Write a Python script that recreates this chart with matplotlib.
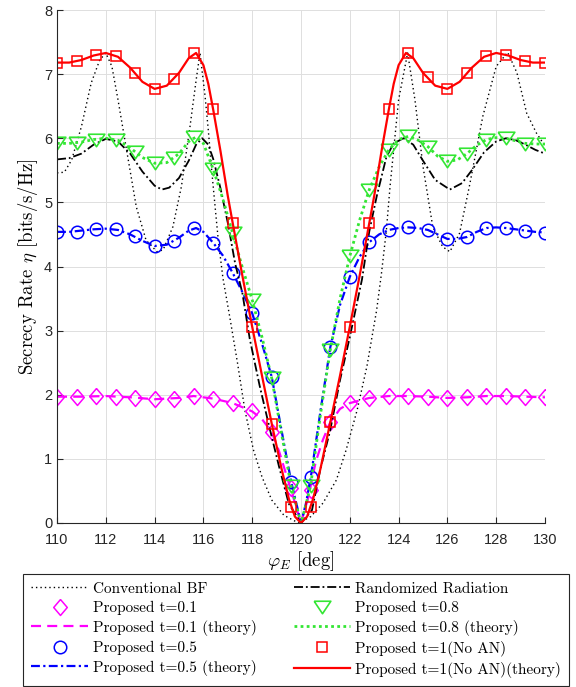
import matplotlib
matplotlib.use("Agg")
import matplotlib.pyplot as plt

plt.rcParams['font.family'] = ['cmr10']
plt.rcParams['mathtext.fontset'] = 'cm'
plt.rcParams['axes.unicode_minus'] = False

# ---------------- data ----------------
x_mk = [110.0, 110.8, 111.6, 112.4, 113.2, 114.0, 114.8, 115.6, 116.4, 117.2, 118.0, 118.8, 119.6,
        120.4, 121.2, 122.0, 122.8, 123.6, 124.4, 125.2, 126.0, 126.8, 127.6, 128.4, 129.2, 130.0]

t01_mk = [1.97, 1.96, 1.98, 1.97, 1.95, 1.93, 1.94, 1.98, 1.94, 1.87, 1.74, 1.42, 0.54,
          0.52, 1.58, 1.87, 1.95, 1.98, 1.98, 1.97, 1.95, 1.96, 1.98, 1.98, 1.97, 1.96]
t05_mk = [4.54, 4.54, 4.58, 4.58, 4.47, 4.32, 4.39, 4.60, 4.37, 3.90, 3.27, 2.28, 0.64,
          0.71, 2.74, 3.84, 4.38, 4.57, 4.61, 4.57, 4.43, 4.46, 4.60, 4.60, 4.56, 4.53]
t08_mk = [5.92, 5.92, 5.98, 5.98, 5.79, 5.61, 5.69, 6.02, 5.52, 4.52, 3.48, 2.26, 0.57,
          0.57, 2.70, 4.16, 5.20, 5.82, 6.03, 5.87, 5.64, 5.76, 5.98, 6.00, 5.91, 5.91]
t1_mk = [7.18, 7.20, 7.30, 7.29, 7.01, 6.77, 6.93, 7.33, 6.45, 4.68, 3.06, 1.55, 0.25,
         0.25, 1.57, 3.06, 4.68, 6.45, 7.33, 6.96, 6.77, 7.01, 7.29, 7.30, 7.20, 7.18]

# Conventional BF
x_cbf = [110.0, 110.3, 110.6, 111.0, 111.4, 111.75, 112.0, 112.25, 112.5, 112.85, 113.25, 113.65,
         114.1, 114.35, 114.75, 115.1, 115.45, 115.7, 115.86, 116.07, 116.2, 116.34, 116.48, 116.61,
         116.8, 117.1, 117.4, 117.7, 118.05, 118.4, 118.8, 119.3, 119.9, 120.4, 120.9, 121.45,
         121.85, 122.3, 122.7, 123.1, 123.3, 123.5, 123.65, 124.0, 124.37, 124.67, 125.0, 125.4,
         125.8, 126.1, 126.5, 126.9, 127.45, 128.0, 128.47, 128.85, 129.25, 129.65, 130.0]
y_cbf = [5.46, 5.47, 5.66, 6.18, 6.86, 7.22, 7.33, 7.12, 6.60, 5.82, 4.93, 4.41,
         4.23, 4.26, 4.62, 5.25, 6.18, 6.90, 7.33, 6.65, 6.13, 5.50, 4.93, 4.41,
         3.82, 3.17, 2.49, 1.76, 1.14, 0.72, 0.36, 0.12, 0.00, 0.10, 0.31, 0.67,
         1.14, 1.76, 2.44, 3.32, 3.90, 4.57, 5.25, 6.60, 7.33, 6.60, 5.56, 4.62,
         4.31, 4.23, 4.52, 5.25, 6.34, 7.12, 7.34, 7.02, 6.39, 6.08, 5.88]

# Randomized Radiation
x_rr = [110.0, 110.5, 111.0, 111.5, 112.0, 112.5, 113.0, 113.5, 114.0, 114.3, 114.6, 115.0, 115.4,
        115.7, 115.95, 116.2, 116.4, 116.7, 117.0, 117.3, 117.6, 117.9, 118.3, 118.7, 119.1, 119.5,
        120.0, 120.45, 120.8, 121.2, 121.6, 122.0, 122.5, 122.8, 123.1, 123.5, 123.8, 124.2, 124.6,
        125.0, 125.5, 126.1, 126.6, 127.0, 127.5, 128.0, 128.4, 128.8, 129.2, 129.6, 130.0]
y_rr = [5.67, 5.69, 5.76, 5.90, 5.99, 5.95, 5.76, 5.48, 5.26, 5.20, 5.23, 5.38, 5.65,
        5.90, 6.00, 5.90, 5.68, 5.22, 4.68, 4.05, 3.58, 2.87, 2.15, 1.50, 0.88, 0.30,
        0.00, 0.20, 0.85, 1.45, 2.23, 2.90, 3.80, 4.55, 5.09, 5.71, 5.92, 6.00, 5.90,
        5.65, 5.35, 5.20, 5.30, 5.50, 5.78, 5.95, 6.00, 5.97, 5.90, 5.82, 5.76]

# Proposed t=0.1 (theory)
x_t01 = [110.0, 111.0, 112.0, 113.0, 114.0, 115.0, 115.6, 116.4, 117.2, 118.0, 118.4, 118.8, 119.1,
         119.4, 119.7, 120.0, 120.3, 120.6, 120.9, 121.2, 121.6, 122.0, 122.8, 123.6, 124.4, 125.2,
         126.0, 126.8, 127.6, 128.4, 129.2, 130.0]
y_t01 = [1.97, 1.97, 1.98, 1.96, 1.93, 1.95, 1.98, 1.94, 1.87, 1.74, 1.62, 1.42, 1.12,
         0.75, 0.38, 0.00, 0.40, 0.95, 1.30, 1.57, 1.78, 1.87, 1.95, 1.98, 1.98, 1.97,
         1.95, 1.96, 1.98, 1.98, 1.97, 1.96]

# Proposed t=0.5 (theory)
x_t05 = [110.0, 110.5, 111.0, 111.5, 112.0, 112.5, 113.0, 113.5, 114.0, 114.5, 115.0, 115.4, 115.7,
         116.0, 116.4, 116.8, 117.2, 117.6, 118.0, 118.4, 118.8, 119.2, 119.6, 120.0, 120.2, 120.4,
         120.8, 121.2, 121.6, 122.0, 122.4, 122.8, 123.2, 123.6, 124.0, 124.4, 124.8, 125.2, 125.6,
         126.0, 126.4, 126.8, 127.2, 127.6, 128.0, 128.4, 128.8, 129.2, 129.6, 130.0]
y_t05 = [4.54, 4.54, 4.56, 4.58, 4.59, 4.57, 4.50, 4.40, 4.32, 4.34, 4.45, 4.56, 4.60,
         4.54, 4.37, 4.17, 3.90, 3.60, 3.27, 2.80, 2.28, 1.45, 0.64, 0.00, 0.30, 0.71,
         1.75, 2.74, 3.40, 3.84, 4.15, 4.38, 4.50, 4.57, 4.60, 4.61, 4.60, 4.57, 4.50,
         4.43, 4.43, 4.46, 4.54, 4.60, 4.61, 4.60, 4.58, 4.56, 4.54, 4.53]

# Proposed t=0.8 (theory)
x_t08 = [110.0, 110.5, 111.0, 111.5, 112.0, 112.5, 113.0, 113.5, 114.0, 114.5, 115.0, 115.4, 115.7,
         116.0, 116.4, 116.8, 117.2, 117.6, 118.0, 118.4, 118.8, 119.2, 119.6, 120.0, 120.2, 120.4,
         120.8, 121.2, 121.6, 122.0, 122.4, 122.8, 123.2, 123.6, 124.0, 124.4, 124.8, 125.2, 125.6,
         126.0, 126.4, 126.8, 127.2, 127.6, 128.0, 128.4, 128.8, 129.2, 129.6, 130.0]
y_t08 = [5.92, 5.92, 5.94, 5.98, 6.00, 5.97, 5.85, 5.70, 5.61, 5.62, 5.76, 5.95, 6.02,
         5.92, 5.52, 5.05, 4.52, 3.98, 3.48, 2.90, 2.26, 1.40, 0.57, 0.00, 0.28, 0.60,
         1.70, 2.70, 3.50, 4.16, 4.72, 5.20, 5.55, 5.82, 5.98, 6.03, 5.97, 5.87, 5.72,
         5.64, 5.66, 5.76, 5.89, 5.98, 6.01, 6.00, 5.96, 5.92, 5.91, 5.91]

# Proposed t=1 (No AN) (theory)
x_t1 = [110.0, 110.5, 111.0, 111.5, 112.0, 112.5, 113.0, 113.5, 114.0, 114.5, 115.0, 115.4, 115.7,
        116.0, 116.2, 116.4, 116.7, 117.0, 117.2, 117.6, 118.0, 118.4, 118.8, 119.2, 119.5, 119.75,
        120.0, 120.25, 120.5, 120.8, 121.2, 121.6, 122.0, 122.4, 122.8, 123.0, 123.3, 123.6, 123.8,
        124.0, 124.3, 124.6, 125.0, 125.5, 126.0, 126.5, 127.0, 127.5, 128.0, 128.5, 129.0, 129.5, 130.0]
y_t1 = [7.18, 7.18, 7.22, 7.29, 7.33, 7.27, 7.10, 6.88, 6.77, 6.82, 7.02, 7.25, 7.33,
        7.14, 6.85, 6.45, 5.80, 5.10, 4.68, 3.85, 3.06, 2.30, 1.55, 0.85, 0.38, 0.10,
        0.00, 0.10, 0.38, 0.85, 1.57, 2.30, 3.06, 3.85, 4.68, 5.10, 5.80, 6.45, 6.85,
        7.14, 7.33, 7.25, 7.02, 6.82, 6.77, 6.88, 7.10, 7.27, 7.33, 7.29, 7.22, 7.18, 7.18]

labels = ["Conventional BF",
          "Proposed t=0.1",
          "Proposed t=0.1 (theory)",
          "Proposed t=0.5",
          "Proposed t=0.5 (theory)",
          "Randomized Radiation",
          "Proposed t=0.8",
          "Proposed t=0.8 (theory)",
          "Proposed t=1(No AN)",
          "Proposed t=1(No AN)(theory)"]

# ---------------- style ----------------
C_MAG = '#ff00ff'
C_BLU = '#0000ff'
C_GRN = '#33e633'
C_RED = '#ff0000'
diamond = [(0, 1), (0.85, 0), (0, -1), (-0.85, 0), (0, 1)]
tri_down = [(-1, 0.75), (1, 0.75), (0, -0.75), (-1, 0.75)]

fig = plt.figure(figsize=(5.76, 6.87), dpi=100)
ax = fig.add_axes([57/576, 1-523/687, (545-57)/576, (523-10)/687])

h = []
h += ax.plot(x_cbf, y_cbf, color='k', lw=1.0, dashes=(1, 2.2))
h += ax.plot(x_mk, t01_mk, ls='none', marker=diamond, ms=11.5, mfc='none', mec=C_MAG, mew=1.1)
h += ax.plot(x_t01, y_t01, color=C_MAG, lw=1.6, dashes=(4.5, 2.8))
h += ax.plot(x_mk, t05_mk, ls='none', marker='o', ms=9, mfc='none', mec=C_BLU, mew=1.1)
h += ax.plot(x_t05, y_t05, color=C_BLU, lw=1.6, dashes=(4, 1.5, 1, 1.5))
h += ax.plot(x_rr, y_rr, color='k', lw=1.3, dashes=(5, 1.6, 1, 1.6))
h += ax.plot(x_mk, t08_mk, ls='none', marker=tri_down, ms=12, mfc='none', mec=C_GRN, mew=1.2)
h += ax.plot(x_t08, y_t08, color=C_GRN, lw=2.0, dashes=(1, 1.2))
h += ax.plot(x_mk, t1_mk, ls='none', marker='s', ms=7.5, mfc='none', mec=C_RED, mew=1.1)
h += ax.plot(x_t1, y_t1, color=C_RED, lw=1.6)

ax.set_xlim(110, 130)
ax.set_ylim(0, 8)
ax.set_xticks([110, 112, 114, 116, 118, 120, 122, 124, 126, 128, 130])
ax.set_yticks([0, 1, 2, 3, 4, 5, 6, 7, 8])
ax.grid(True, color='#dedede', lw=0.7)
ax.set_axisbelow(True)
for s in ['top', 'right']:
    ax.spines[s].set_visible(False)
for s in ['left', 'bottom']:
    ax.spines[s].set_color('#262626')
    ax.spines[s].set_linewidth(0.8)
ax.tick_params(direction='in', length=4, width=0.8, color='#262626', labelcolor='#262626',
               labelsize=10.5)
for lab in ax.get_xticklabels() + ax.get_yticklabels():
    lab.set_fontfamily('Liberation Sans')
ax.tick_params(axis='x', pad=7.5)

ax.set_ylabel(r"Secrecy Rate $\eta$ [bits/s/Hz]", fontsize=13.5, labelpad=3)
ax.set_xlabel(r"$\varphi_E$ [deg]", fontsize=13.5, labelpad=1)

leg = fig.legend(h, labels, ncol=2, loc='lower left', mode='expand',
                 bbox_to_anchor=(23/576, 1/687, 546/576, 112/687), borderaxespad=0,
                 fontsize=11, numpoints=1, handlelength=3.7, handletextpad=0.3,
                 labelspacing=0.32, columnspacing=1.0, borderpad=0.55,
                 fancybox=False, framealpha=1, edgecolor='#262626')
leg.get_frame().set_linewidth(0.8)

fig.savefig("out.png", dpi=100)
